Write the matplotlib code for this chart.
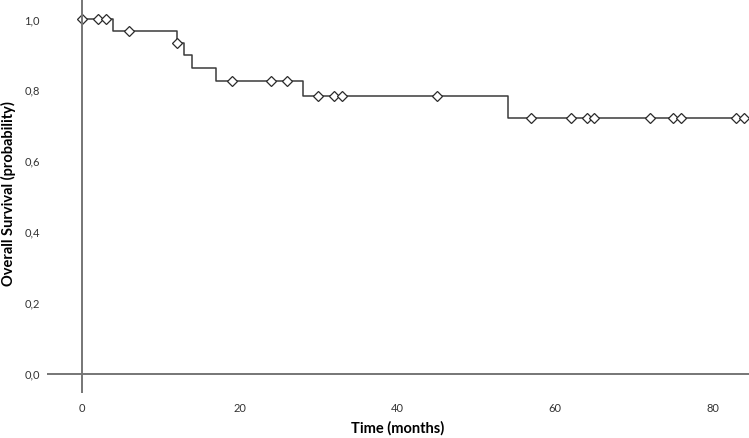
import numpy as np
import matplotlib
matplotlib.use("Agg")
import matplotlib.pyplot as plt
from matplotlib.ticker import FuncFormatter

# Kaplan-Meier curve
event_times = [0, 4, 12, 13, 14, 17, 28, 54]
survival = [1.0, 0.968, 0.934, 0.899, 0.862, 0.827, 0.784, 0.723]
last_followup = 84
censor_times = [0, 2, 3, 6, 12, 19, 24, 26, 30, 32, 33, 45,
                57, 62, 64, 65, 72, 75, 76, 83, 84]

x_ticks = [0, 20, 40, 60, 80]
y_ticks = [0.0, 0.2, 0.4, 0.6, 0.8, 1.0]

plt.rcParams["font.family"] = ["Lato", "DejaVu Sans"]

fig = plt.figure(figsize=(7.49, 4.38), dpi=100)
ax = fig.add_axes([47 / 749, 1 - 393 / 438, 702 / 749, 393 / 438])

step_x = np.append(event_times, last_followup)
step_y = np.append(survival, survival[-1])
ax.step(step_x, step_y, where="post", color="#3a3a3a", lw=1.1, zorder=2)

idx = np.searchsorted(event_times, censor_times, side="right") - 1
censor_y = np.array(survival)[idx]
ax.plot(censor_times, censor_y, linestyle="none", marker="D", ms=4.6,
        mfc="white", mec="#2a2a2a", mew=0.9, zorder=3)

# axis cross at the origin
ax.axhline(0, color="#767676", lw=1.4, zorder=4)
ax.axvline(0, color="#767676", lw=1.4, zorder=4)

ax.set_xlim(-4.43, 84.6)
ax.set_ylim(-0.055, 1.055)
ax.set_xticks(x_ticks)
ax.set_yticks(y_ticks)
ax.yaxis.set_major_formatter(FuncFormatter(lambda v, p: f"{v:.1f}".replace(".", ",")))
ax.tick_params(length=0, labelsize=8, labelcolor="#333333")
ax.tick_params(axis="x", pad=7)
ax.tick_params(axis="y", pad=5)
for s in ax.spines.values():
    s.set_visible(False)

ax.set_xlabel("Time (months)", fontsize=10.5, fontweight="bold", labelpad=5)
fig.text(8 / 749, 0.558, "Overall Survival (probability)", rotation=90,
         ha="center", va="center", fontsize=10.5, fontweight="bold")

fig.savefig("out.png", dpi=100)
plt.close(fig)
